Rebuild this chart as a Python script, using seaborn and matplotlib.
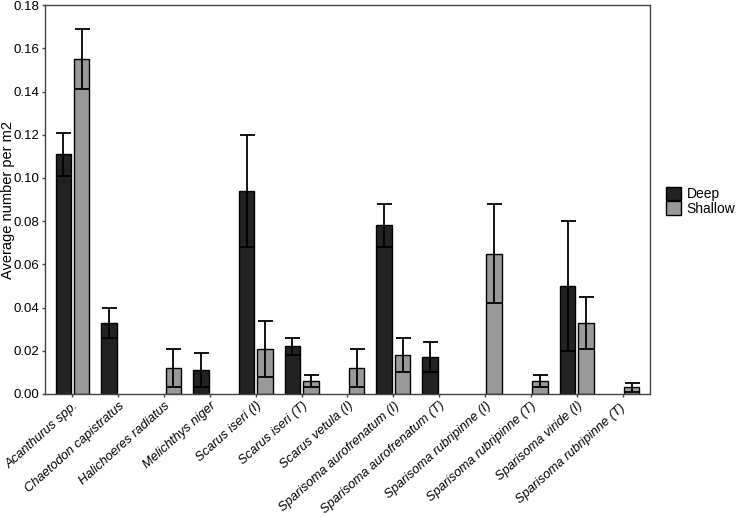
import matplotlib
matplotlib.use("Agg")
import matplotlib.pyplot as plt
import matplotlib.transforms as mtrans
import seaborn as sns
import numpy as np
import pandas as pd

# species on the x axis
species = [
    "Acanthurus spp.", "Chaetodon capistratus", "Halichoeres radiatus",
    "Melichthys niger", "Scarus iseri (I)", "Scarus iseri (T)",
    "Scarus vetula (I)", "Sparisoma aurofrenatum (I)",
    "Sparisoma aurofrenatum (T)", "Sparisoma rubripinne (I)",
    "Sparisoma rubripinne (T)", "Sparisoma viride (I)",
    "Sparisoma rubripinne (T) ",
]
depths = ["Deep", "Shallow"]

# mean density per m2 (nan = not recorded)
deep_mean = [0.111, 0.033, np.nan, 0.011, 0.094, 0.022, np.nan, 0.078, 0.017, np.nan, np.nan, 0.050, np.nan]
shallow_mean = [0.155, np.nan, 0.012, np.nan, 0.021, 0.006, 0.012, 0.018, np.nan, 0.065, 0.006, 0.033, 0.003]
# error (half-length of the bars)
deep_err = [0.010, 0.007, np.nan, 0.008, 0.026, 0.004, np.nan, 0.010, 0.007, np.nan, np.nan, 0.030, np.nan]
shallow_err = [0.014, np.nan, 0.009, np.nan, 0.013, 0.003, 0.009, 0.008, np.nan, 0.023, 0.003, 0.012, 0.002]

df = pd.DataFrame({
    "species": species * 2,
    "depth": ["Deep"] * len(species) + ["Shallow"] * len(species),
    "mean": deep_mean + shallow_mean,
    "err": deep_err + shallow_err,
})
df = df.dropna(subset=["mean"])

sns.set_style("ticks")
plt.rcParams["font.family"] = ["Liberation Sans", "DejaVu Sans"]
plt.rcParams["text.color"] = "black"
plt.rcParams["axes.labelcolor"] = "black"
plt.rcParams["xtick.labelcolor"] = "black"
plt.rcParams["ytick.labelcolor"] = "black"

fig, ax = plt.subplots(figsize=(7.37, 5.17), dpi=100)
fig.subplots_adjust(left=0.061, right=0.882, top=0.990, bottom=0.238)

palette = {"Deep": "#222222", "Shallow": "#999999"}
sns.barplot(data=df, x="species", y="mean", hue="depth", order=species,
            hue_order=depths, palette=palette, width=0.8, gap=0.15,
            errorbar=None, edgecolor="black", linewidth=1.0, saturation=1,
            ax=ax)

# error bars at the centre of every bar seaborn drew
for cont, dep in zip(ax.containers, depths):
    sub = df[df["depth"] == dep].set_index("species")
    for bar in cont:
        cx = bar.get_x() + bar.get_width() / 2
        name = species[int(round(cx))]
        ax.errorbar(cx, sub.loc[name, "mean"], yerr=sub.loc[name, "err"],
                    fmt="none", ecolor="black", elinewidth=1.3,
                    capsize=5.4, capthick=1.3, zorder=5)

ax.set_xlim(-0.6, len(species) - 0.4)
ax.set_ylim(0, 0.18)
ax.set_yticks(np.arange(0, 0.181, 0.02))
ax.set_yticklabels([f"{v:.2f}" for v in np.arange(0, 0.181, 0.02)], fontsize=9.5)
ax.set_xticks(range(len(species)))
ax.set_xticklabels(species, rotation=42, ha="right", rotation_mode="anchor",
                   fontsize=9.3, style="italic")
shift = mtrans.ScaledTranslation(6 / 100, -2 / 100, fig.dpi_scale_trans)
for lbl in ax.get_xticklabels():
    lbl.set_transform(lbl.get_transform() + shift)
ax.set_xlabel("")
ax.set_ylabel("Average number per m2", fontsize=10.5)
ax.yaxis.set_label_coords(-0.05, 0.5)

for sp in ax.spines.values():
    sp.set_visible(True)
    sp.set_color("#444444")
    sp.set_linewidth(1.0)
ax.tick_params(axis="both", direction="out", length=2.5, width=1,
               color="#444444", pad=1.5)

ax.legend(title=None, frameon=False, loc="upper left",
          bbox_to_anchor=(0.904, 0.638), bbox_transform=fig.transFigure,
          handlelength=1.08, handleheight=1.08, labelspacing=0.0,
          handletextpad=0.4, fontsize=10, borderaxespad=0, borderpad=0)

fig.savefig("out.png", dpi=100)
